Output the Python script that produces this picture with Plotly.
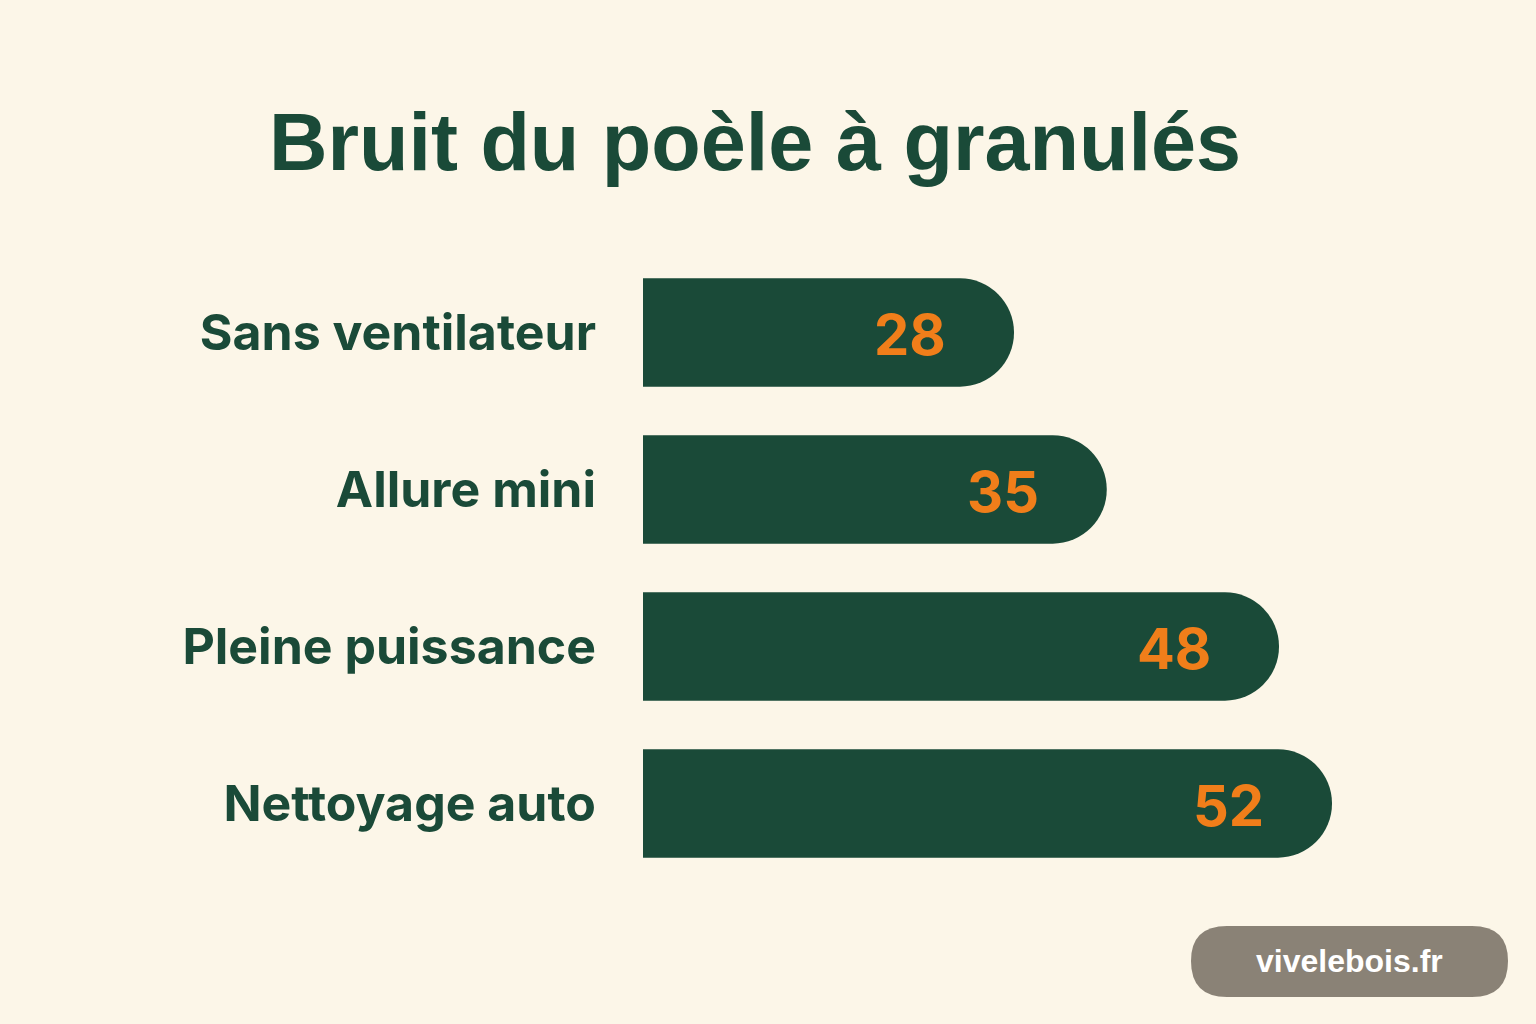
import plotly.graph_objects as go

categories = ["Sans ventilateur", "Allure mini", "Pleine puissance", "Nettoyage auto"]
values = [28, 35, 48, 52]
title_text = "Bruit du poèle à granulés"
watermark = "vivelebois.fr"

BG = "#FCF6E8"
GREEN = "#1A4A38"
ORANGE = "#F07E1A"
GREY = "#8A8276"

W, H = 1536, 1024
ML, MR, MT, MB = 643, 98, 254, 142
PW, PH = W - ML - MR, H - MT - MB


def px(x):
    return (x - ML) / PW


def py(y):
    return (H - MB - y) / PH


fig = go.Figure()
fig.add_trace(go.Bar(
    x=values, y=categories, orientation="h",
    marker=dict(color=GREEN, line=dict(width=0)),
    hoverinfo="skip",
))

annotations = []
for c, v in zip(categories, values):
    annotations.append(dict(
        x=v, y=c, xref="x", yref="y", text=str(v), showarrow=False,
        xanchor="right", yanchor="middle", xshift=-66, yshift=-2,
        font=dict(family="Inter", size=56, color=ORANGE, weight="bold"),
    ))

annotations.append(dict(
    x=px(1349.5), y=py(961), xref="paper", yref="paper",
    text=watermark, showarrow=False, xanchor="center", yanchor="middle",
    font=dict(family="Liberation Sans", size=32, color="white", weight="bold"),
))


def P(x, y):
    return f"{px(x):.5f} {py(y):.5f}"


path = (f"M {P(1227,926)} L {P(1472,926)} Q {P(1508,926)} {P(1508,961)} "
        f"Q {P(1508,997)} {P(1472,997)} L {P(1227,997)} Q {P(1191,997)} {P(1191,961)} "
        f"Q {P(1191,926)} {P(1227,926)} Z")

fig.update_layout(
    width=W, height=H,
    paper_bgcolor=BG, plot_bgcolor=BG,
    margin=dict(l=ML, r=MR, t=MT, b=MB),
    barcornerradius="50%",
    bargap=0.31,
    showlegend=False,
    title=dict(
        text=title_text, x=755 / W, xanchor="center",
        y=1 - 142 / H, yanchor="middle",
        font=dict(family="Liberation Sans", size=81, color=GREEN, weight="bold"),
    ),
    xaxis=dict(range=[0, 60], visible=False, fixedrange=True),
    yaxis=dict(
        autorange="reversed", showgrid=False, zeroline=False, showline=False,
        ticks="", ticklabelstandoff=46,
        tickfont=dict(family="Inter", size=50, color=GREEN, weight="bold"),
    ),
    annotations=annotations,
    shapes=[dict(
        type="path", xref="paper", yref="paper", path=path,
        fillcolor=GREY, line=dict(width=0), layer="below",
    )],
)

fig.write_html(
    "out.html",
    config={"displayModeBar": False},
    post_script="document.body.style.margin='0';document.body.style.overflow='hidden';",
)
